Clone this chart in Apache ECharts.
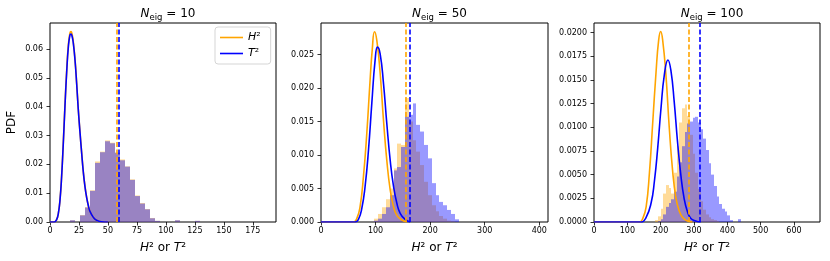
<!DOCTYPE html>
<html><head><meta charset="utf-8">
<script src="https://cdn.jsdelivr.net/npm/echarts@6/dist/echarts.min.js"></script>
<style>html,body{margin:0;padding:0;background:#fff}#c{width:830px;height:261px}</style>
</head><body><div id="c"></div>
<script>
// ---------- data ----------
const nEig = ['10', '50', '100'];
const xMax = [195, 416, 678];
const yMax = [0.069, 0.0297, 0.021];
const xTicks1 = [0, 25, 50, 75, 100, 125, 150, 175];
const xTicks2 = [0, 100, 200, 300, 400];
const xTicks3 = [0, 100, 200, 300, 400, 500, 600];
const yTicks1 = [0, 0.01, 0.02, 0.03, 0.04, 0.05, 0.06];
const yTicks2 = [0, 0.005, 0.01, 0.015, 0.02, 0.025];
const yTicks3 = [0, 0.0025, 0.005, 0.0075, 0.01, 0.0125, 0.015, 0.0175, 0.02];
const yDecimals = [2, 3, 4];

// dashed vertical lines (H², T²)
const hLine = [58.0, 154.5, 284];
const tLine = [59.6, 163.5, 316];

// histograms: bin edges and densities
const edges1 = [17.2, 21.5, 25.9, 30.2, 34.5, 38.9, 43.2, 47.5, 51.8, 56.2, 60.5, 64.8, 69.2, 73.5, 77.8, 82.2, 86.5, 90.8, 95.1, 99.5, 103.8, 108.1, 112.5, 116.8, 121.1, 125.5, 129.8];
const h1Hist = [0.0006, 0, 0.0024, 0.0052, 0.0110, 0.0210, 0.0244, 0.0283, 0.0275, 0.0241, 0.0217, 0.0193, 0.0148, 0.0092, 0.0066, 0.0045, 0.0014, 0.0004, 0, 0, 0, 0.0006, 0, 0, 0, 0.0004];
const t1Hist = [0.0006, 0, 0.0023, 0.0050, 0.0108, 0.0205, 0.0242, 0.0280, 0.0273, 0.0240, 0.0214, 0.0192, 0.0146, 0.0090, 0.0064, 0.0044, 0.0013, 0.0004, 0, 0, 0, 0.0006, 0, 0, 0, 0.0004];

const edges2 = [98, 105, 112, 119, 126, 133, 140, 147, 154, 161, 168, 175, 182, 189, 196, 203, 210, 217, 224, 231, 238, 245, 252];
const h2Hist = [0.0005, 0.0012, 0.0022, 0.0034, 0.0050, 0.0080, 0.0117, 0.0115, 0.0185, 0.0150, 0.0122, 0.0105, 0.0085, 0.0060, 0.0040, 0.0025, 0.0016, 0.0009, 0.0005, 0.0002, 0.0001, 0];
const t2Hist = [0.0002, 0.0005, 0.0012, 0.0022, 0.0040, 0.0077, 0.0082, 0.0112, 0.0157, 0.0160, 0.0177, 0.0145, 0.0135, 0.0115, 0.0095, 0.0058, 0.0040, 0.0030, 0.0025, 0.0018, 0.0012, 0.0004];

const edges3 = [184, 192, 200, 208, 216, 224, 232, 240, 248, 256, 264, 272, 280, 288, 296, 304, 312, 320, 328, 336, 344, 352, 360, 368, 376, 384, 392, 400, 408, 416, 424, 432, 440, 448, 456];
const h3Hist = [0.0002, 0.0006, 0.0014, 0.0030, 0.0039, 0.0036, 0.0030, 0.0052, 0.0080, 0.0105, 0.0120, 0.0124, 0.0112, 0.0092, 0.0072, 0.0052, 0.0035, 0.0022, 0.0013, 0.0008, 0.0005, 0.0003, 0.0002, 0.0001, 0, 0, 0, 0, 0, 0, 0, 0, 0, 0];
const t3Hist = [0, 0.0001, 0.0003, 0.0008, 0.0016, 0.0020, 0.0024, 0.0032, 0.0048, 0.0063, 0.0080, 0.0095, 0.0104, 0.0106, 0.0110, 0.0111, 0.0105, 0.0098, 0.0088, 0.0076, 0.0062, 0.0050, 0.0038, 0.0027, 0.0019, 0.0014, 0.0011, 0.0007, 0.0002, 0, 0, 0.0003, 0, 0];

// PDF curves
const c1x = [0, 3.7, 5.7, 7.2, 8.6, 10.0, 11.5, 12.9, 14.4, 15.8, 17.2, 18.1, 19.0, 20.1, 21.6, 23.0, 24.4, 25.9, 27.3, 28.7, 30.1, 31.6, 33.0, 34.5, 37.4, 40.2, 44.5, 50];
const h1y = [0, 0, 0.0008, 0.003, 0.0076, 0.0157, 0.0278, 0.0405, 0.0525, 0.0613, 0.0655, 0.0660, 0.0652, 0.0625, 0.0563, 0.0482, 0.0392, 0.0311, 0.0241, 0.0176, 0.0126, 0.0086, 0.0058, 0.0037, 0.0016, 0.0006, 0.0001, 0];
const t1y = [0, 0, 0.0008, 0.003, 0.0075, 0.0155, 0.0275, 0.0400, 0.0520, 0.0605, 0.0648, 0.0652, 0.0645, 0.0620, 0.0560, 0.0480, 0.0390, 0.0310, 0.0240, 0.0175, 0.0125, 0.0085, 0.0058, 0.0037, 0.0016, 0.0006, 0.0001, 0];

const h2x = [0, 59, 65.5, 71.6, 77.8, 83.9, 90, 94, 98, 102.3, 108.4, 114.5, 120.6, 126.8, 132.9, 139, 148.2, 157.4];
const h2y = [0, 0, 0.0005, 0.0023, 0.0068, 0.0132, 0.0212, 0.0258, 0.0284, 0.0271, 0.0222, 0.0152, 0.0092, 0.0048, 0.0023, 0.0010, 0.0003, 0];
const t2x = [0, 62.5, 68.6, 74.7, 80.8, 87, 93.1, 99.2, 103.5, 108.4, 114.5, 120.6, 126.8, 132.9, 139, 145.1, 154.3, 163.5];
const t2y = [0, 0, 0.0004, 0.0020, 0.0053, 0.0107, 0.0177, 0.0242, 0.0261, 0.0251, 0.0207, 0.0147, 0.0092, 0.0053, 0.0028, 0.0013, 0.0004, 0];

const h3x = [0, 136.6, 146.5, 156.4, 166.3, 176.2, 186.1, 194, 200, 206, 215.8, 225.7, 235.6, 245.5, 255.4, 265.3, 280.2, 295];
const h3y = [0, 0, 0.0004, 0.0016, 0.0052, 0.0105, 0.0158, 0.0192, 0.0201, 0.0192, 0.0155, 0.0100, 0.0055, 0.0026, 0.0012, 0.0005, 0.0001, 0];
const t3x = [0, 141.6, 156.4, 171.3, 181.2, 191.1, 201, 210.9, 221.8, 230.7, 240.6, 250.5, 260.4, 270.3, 280.2, 290.1, 305, 320];
const t3y = [0, 0, 0.0005, 0.0020, 0.0043, 0.0078, 0.0120, 0.0155, 0.0171, 0.0160, 0.0127, 0.0085, 0.0050, 0.0025, 0.0011, 0.0004, 0.0001, 0];

// ---------- build ----------
const ORANGE = '#FFA500', BLUE = '#0000FF';
const HFILL = 'rgba(255,165,0,0.4)', TFILL = 'rgba(0,0,255,0.4)';
const FONT = 'DejaVu Sans';
const gridLeft = [50, 321, 594], gridWidth = [226, 227, 226];
const xTicks = [xTicks1, xTicks2, xTicks3];
const yTicks = [yTicks1, yTicks2, yTicks3];
const edgesAll = [edges1, edges2, edges3];
const hHist = [h1Hist, h2Hist, h3Hist], tHist = [t1Hist, t2Hist, t3Hist];
const hCurve = [[c1x, h1y], [h2x, h2y], [h3x, h3y]];
const tCurve = [[c1x, t1y], [t2x, t2y], [t3x, t3y]];

function histSeries(i, edges, vals, fill) {
  return {
    type: 'custom', xAxisIndex: i, yAxisIndex: i, silent: true, z: 1, clip: true,
    data: vals.map((v, k) => [edges[k], edges[k + 1], v]),
    encode: { x: [0, 1], y: 2 },
    renderItem: function (params, api) {
      const p0 = api.coord([api.value(0), api.value(2)]);
      const p1 = api.coord([api.value(1), 0]);
      const x0 = Math.round(p0[0]), x1 = Math.round(p1[0]);
      return { type: 'rect', shape: { x: x0, y: p0[1], width: x1 - x0, height: p1[1] - p0[1] }, style: { fill: fill } };
    }
  };
}
function curveSeries(i, name, xy, color, vline, z) {
  return {
    type: 'line', name: name, xAxisIndex: i, yAxisIndex: i, symbol: 'none', showSymbol: false,
    smooth: 0.5, z: z, silent: true,
    data: xy[0].map((x, k) => [x, xy[1][k]]),
    lineStyle: { color: color, width: 1.6, join: 'round' }, itemStyle: { color: color },
    markLine: {
      silent: true, symbol: ['none', 'none'], label: { show: false }, animation: false,
      lineStyle: { color: color, width: 1.6, type: [5, 2.5] },
      emphasis: { disabled: true },
      data: [{ xAxis: vline }]
    }
  };
}

const grids = [], xAxes = [], yAxes = [], series = [], titles = [];
for (let i = 0; i < 3; i++) {
  grids.push({ left: gridLeft[i], top: 23, width: gridWidth[i], height: 199, show: true, borderColor: '#000', borderWidth: 1, backgroundColor: 'transparent' });
  xAxes.push({
    type: 'value', gridIndex: i, min: 0, max: xMax[i],
    axisLine: { show: false }, splitLine: { show: false },
    axisTick: { show: true, length: 3.5, lineStyle: { color: '#000', width: 0.8 }, customValues: xTicks[i] },
    axisLabel: { customValues: xTicks[i], margin: 5, fontSize: 8, fontFamily: FONT, color: '#000' },
    name: '{i|H}² or {i|T}²', nameLocation: 'middle', nameGap: 20,
    nameTextStyle: { fontSize: 12, fontFamily: FONT, color: '#000', rich: { i: { fontStyle: 'italic', fontSize: 12, fontFamily: FONT, color: '#000' } } }
  });
  const dec = yDecimals[i];
  yAxes.push({
    type: 'value', gridIndex: i, min: 0, max: yMax[i],
    axisLine: { show: false }, splitLine: { show: false },
    axisTick: { show: true, length: 3.5, lineStyle: { color: '#000', width: 0.8 }, customValues: yTicks[i] },
    axisLabel: { customValues: yTicks[i], margin: 7, fontSize: 8, fontFamily: FONT, color: '#000', formatter: v => v.toFixed(dec) },
    name: i === 0 ? 'PDF' : '', nameLocation: 'middle', nameGap: 32,
    nameTextStyle: { fontSize: 12, fontFamily: FONT, color: '#000' }
  });
  series.push(histSeries(i, edgesAll[i], hHist[i], HFILL));
  series.push(histSeries(i, edgesAll[i], tHist[i], TFILL));
  series.push(curveSeries(i, i === 0 ? 'H2' : 'H2_' + i, hCurve[i], ORANGE, hLine[i], 3));
  series.push(curveSeries(i, i === 0 ? 'T2' : 'T2_' + i, tCurve[i], BLUE, tLine[i], 4));
  titles.push({
    text: '{n|N}{s|eig}{e| = ' + nEig[i] + '}',
    left: gridLeft[i] + gridWidth[i] / 2, top: 0, textAlign: 'center',
    textStyle: {
      fontSize: 12, fontFamily: FONT, color: '#000', fontWeight: 'normal',
      rich: {
        n: { fontSize: 12, fontStyle: 'italic', fontFamily: FONT, color: '#000' },
        s: { fontSize: 8.5, fontFamily: FONT, color: '#000', padding: [8, 0, 0, 0] },
        e: { fontSize: 12, fontFamily: FONT, color: '#000' }
      }
    }
  });
}

const chart = echarts.init(document.getElementById('c'), null, { renderer: 'canvas' });
chart.setOption({
  animation: false,
  backgroundColor: '#fff',
  title: titles,
  legend: {
    data: ['H2', 'T2'], orient: 'vertical', left: 215, top: 27,
    icon: 'rect', itemWidth: 23, itemHeight: 1.6, itemGap: 5, padding: [5, 10, 5, 5],
    borderColor: '#d5d5d5', borderWidth: 1, borderRadius: 3, backgroundColor: 'rgba(255,255,255,0.85)',
    selectedMode: false,
    formatter: n => n === 'H2' ? '{i|H}²' : '{i|T}²',
    textStyle: { fontSize: 11, fontFamily: FONT, color: '#000', rich: { i: { fontStyle: 'italic', fontSize: 11, fontFamily: FONT, color: '#000' } } }
  },
  grid: grids, xAxis: xAxes, yAxis: yAxes, series: series
});
</script></body></html>
